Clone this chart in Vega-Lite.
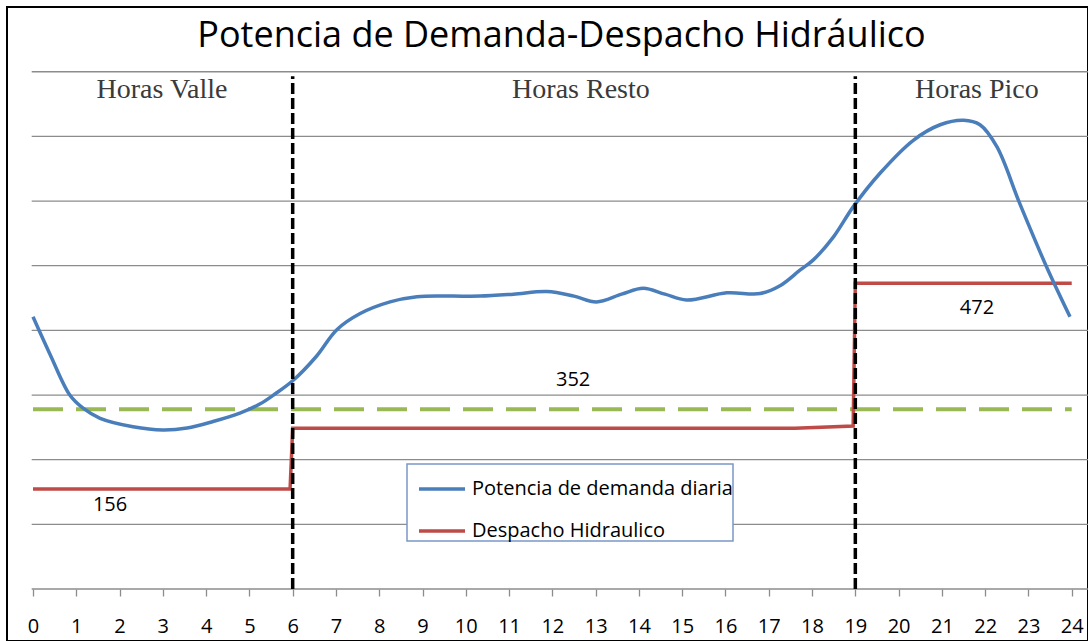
{
  "$schema": "https://vega.github.io/schema/vega-lite/v6.json",
  "width": 1081,
  "height": 634,
  "autosize": {"type": "none"},
  "padding": {"left": 7, "top": 7, "right": 0, "bottom": 0},
  "background": "white",
  "config": {
    "view": {"stroke": "#000000", "strokeWidth": 2},
    "font": "Open Sans",
    "legend": {"strokeWidth": 1.5}
  },
  "title": {
    "text": "Potencia de Demanda-Despacho Hidráulico",
    "font": "Open Sans",
    "fontSize": 36,
    "fontWeight": "normal",
    "color": "#000000",
    "anchor": "middle",
    "baseline": "alphabetic",
    "offset": -37,
    "dx": 14,
    "dy": 39
  },
  "datasets": {
    "grid": [{"nivel": 0}, {"nivel": 1}, {"nivel": 2}, {"nivel": 3}, {"nivel": 4}, {"nivel": 5}, {"nivel": 6}, {"nivel": 7}, {"nivel": 8}],
    "demanda": [
      {"hora": 0, "valor": 4.21, "serie": "Potencia de demanda diaria"},
      {"hora": 0.4, "valor": 3.62, "serie": "Potencia de demanda diaria"},
      {"hora": 0.85, "valor": 3.0, "serie": "Potencia de demanda diaria"},
      {"hora": 1.15, "valor": 2.8, "serie": "Potencia de demanda diaria"},
      {"hora": 1.55, "valor": 2.64, "serie": "Potencia de demanda diaria"},
      {"hora": 2.31, "valor": 2.51, "serie": "Potencia de demanda diaria"},
      {"hora": 3.0, "valor": 2.46, "serie": "Potencia de demanda diaria"},
      {"hora": 3.56, "valor": 2.49, "serie": "Potencia de demanda diaria"},
      {"hora": 4.16, "valor": 2.59, "serie": "Potencia de demanda diaria"},
      {"hora": 4.78, "valor": 2.72, "serie": "Potencia de demanda diaria"},
      {"hora": 5.24, "valor": 2.86, "serie": "Potencia de demanda diaria"},
      {"hora": 5.6, "valor": 3.02, "serie": "Potencia de demanda diaria"},
      {"hora": 6.0, "valor": 3.22, "serie": "Potencia de demanda diaria"},
      {"hora": 6.55, "valor": 3.6, "serie": "Potencia de demanda diaria"},
      {"hora": 7.02, "valor": 4.01, "serie": "Potencia de demanda diaria"},
      {"hora": 7.56, "valor": 4.26, "serie": "Potencia de demanda diaria"},
      {"hora": 8.25, "valor": 4.44, "serie": "Potencia de demanda diaria"},
      {"hora": 8.87, "valor": 4.52, "serie": "Potencia de demanda diaria"},
      {"hora": 9.63, "valor": 4.53, "serie": "Potencia de demanda diaria"},
      {"hora": 10.33, "valor": 4.53, "serie": "Potencia de demanda diaria"},
      {"hora": 11.1, "valor": 4.56, "serie": "Potencia de demanda diaria"},
      {"hora": 11.87, "valor": 4.6, "serie": "Potencia de demanda diaria"},
      {"hora": 12.5, "valor": 4.53, "serie": "Potencia de demanda diaria"},
      {"hora": 13.02, "valor": 4.44, "serie": "Potencia de demanda diaria"},
      {"hora": 13.6, "valor": 4.56, "serie": "Potencia de demanda diaria"},
      {"hora": 14.1, "valor": 4.65, "serie": "Potencia de demanda diaria"},
      {"hora": 14.6, "valor": 4.56, "serie": "Potencia de demanda diaria"},
      {"hora": 15.1, "valor": 4.47, "serie": "Potencia de demanda diaria"},
      {"hora": 16.03, "valor": 4.58, "serie": "Potencia de demanda diaria"},
      {"hora": 16.8, "valor": 4.57, "serie": "Potencia de demanda diaria"},
      {"hora": 17.26, "valor": 4.69, "serie": "Potencia de demanda diaria"},
      {"hora": 17.72, "valor": 4.93, "serie": "Potencia de demanda diaria"},
      {"hora": 18.03, "valor": 5.09, "serie": "Potencia de demanda diaria"},
      {"hora": 18.5, "valor": 5.45, "serie": "Potencia de demanda diaria"},
      {"hora": 18.95, "valor": 5.91, "serie": "Potencia de demanda diaria"},
      {"hora": 19.57, "valor": 6.43, "serie": "Potencia de demanda diaria"},
      {"hora": 20.34, "valor": 6.94, "serie": "Potencia de demanda diaria"},
      {"hora": 20.96, "valor": 7.18, "serie": "Potencia de demanda diaria"},
      {"hora": 21.5, "valor": 7.25, "serie": "Potencia de demanda diaria"},
      {"hora": 21.88, "valor": 7.18, "serie": "Potencia de demanda diaria"},
      {"hora": 22.27, "valor": 6.84, "serie": "Potencia de demanda diaria"},
      {"hora": 22.8, "valor": 5.96, "serie": "Potencia de demanda diaria"},
      {"hora": 23.42, "valor": 4.98, "serie": "Potencia de demanda diaria"},
      {"hora": 23.96, "valor": 4.21, "serie": "Potencia de demanda diaria"}
    ],
    "despacho": [
      {"hora": 0, "valor": 1.547, "serie": "Despacho Hidraulico"},
      {"hora": 5.94, "valor": 1.547, "serie": "Despacho Hidraulico"},
      {"hora": 6.0, "valor": 2.485, "serie": "Despacho Hidraulico"},
      {"hora": 17.6, "valor": 2.485, "serie": "Despacho Hidraulico"},
      {"hora": 18.95, "valor": 2.52, "serie": "Despacho Hidraulico"},
      {"hora": 19.0, "valor": 4.728, "serie": "Despacho Hidraulico"},
      {"hora": 24.0, "valor": 4.728, "serie": "Despacho Hidraulico"}
    ],
    "umbral": [{"hora": 0, "valor": 2.779}, {"hora": 24, "valor": 2.779}],
    "franjas": [{"hora": 6, "desde": 0, "hasta": 7.93}, {"hora": 19, "desde": 0, "hasta": 7.93}],
    "zonas": [
      {"nombre": "Horas Valle", "hora": 2.98, "nivel": 7.72},
      {"nombre": "Horas Resto", "hora": 12.66, "nivel": 7.72},
      {"nombre": "Horas Pico", "hora": 21.81, "nivel": 7.72}
    ],
    "etiquetas": [
      {"texto": "156", "hora": 1.78, "nivel": 1.3},
      {"texto": "352", "hora": 12.48, "nivel": 3.23},
      {"texto": "472", "hora": 21.81, "nivel": 4.35}
    ]
  },
  "layer": [
    {
      "data": {"name": "grid"},
      "mark": {"type": "rule", "color": "#8c8c8c", "strokeWidth": 1.3},
      "encoding": {
        "y": {"field": "nivel", "type": "quantitative", "scale": {"domain": [-0.804, 9.001], "nice": false, "zero": false}, "axis": null},
        "x": {"datum": -0.03, "type": "quantitative"},
        "x2": {"datum": 24.5}
      }
    },
    {
      "data": {"name": "umbral"},
      "mark": {"type": "line", "color": "#98B954", "strokeWidth": 4, "strokeDash": [30, 13]},
      "encoding": {
        "x": {"field": "hora", "type": "quantitative"},
        "y": {"field": "valor", "type": "quantitative", "axis": null}
      }
    },
    {
      "data": {"name": "despacho"},
      "mark": {"type": "line", "strokeWidth": 3.5},
      "encoding": {
        "x": {"field": "hora", "type": "quantitative"},
        "y": {"field": "valor", "type": "quantitative", "axis": null},
        "color": {"field": "serie", "type": "nominal"}
      }
    },
    {
      "data": {"name": "demanda"},
      "mark": {"type": "line", "strokeWidth": 3.5, "interpolate": "catmull-rom"},
      "encoding": {
        "x": {
          "field": "hora",
          "type": "quantitative",
          "scale": {"domain": [-0.6007, 24.376], "nice": false, "zero": false},
          "axis": {
            "title": null,
            "values": [0, 1, 2, 3, 4, 5, 6, 7, 8, 9, 10, 11, 12, 13, 14, 15, 16, 17, 18, 19, 20, 21, 22, 23, 24],
            "offset": -52,
            "domain": false,
            "grid": false,
            "ticks": true,
            "tickColor": "#8c8c8c",
            "tickSize": 7,
            "tickWidth": 1.3,
            "labelFont": "Open Sans",
            "labelFontSize": 20,
            "labelColor": "#000000",
            "labelPadding": 20,
            "labelFlush": false,
            "labelOverlap": false
          }
        },
        "y": {"field": "valor", "type": "quantitative", "axis": null},
        "color": {
          "field": "serie",
          "type": "nominal",
          "scale": {"domain": ["Potencia de demanda diaria", "Despacho Hidraulico"], "range": ["#4A7EBB", "#BE4B48"]},
          "legend": {
            "title": null,
            "orient": "none",
            "legendX": 400,
            "legendY": 457,
            "padding": 0,
            "symbolType": "stroke",
            "symbolSize": 2116,
            "symbolStrokeWidth": 3.5,
            "symbolOffset": 10,
            "labelOffset": 5,
            "labelLimit": 400,
            "rowPadding": 7,
            "labelFont": "Open Sans",
            "labelFontSize": 20,
            "labelColor": "#000000",
            "strokeColor": "#7996c8",
            "fillColor": "#ffffff"
          }
        }
      }
    },
    {
      "data": {"name": "franjas"},
      "mark": {"type": "rule", "color": "#000000", "strokeWidth": 3.5, "strokeDash": [11, 4]},
      "encoding": {
        "x": {"field": "hora", "type": "quantitative"},
        "y": {"field": "desde", "type": "quantitative", "axis": null},
        "y2": {"field": "hasta"}
      }
    },
    {
      "data": {"name": "zonas"},
      "mark": {"type": "text", "font": "Liberation Serif", "fontSize": 28, "color": "#3a3a3a", "align": "center", "baseline": "middle"},
      "encoding": {
        "x": {"field": "hora", "type": "quantitative"},
        "y": {"field": "nivel", "type": "quantitative", "axis": null},
        "text": {"field": "nombre"}
      }
    },
    {
      "data": {"name": "etiquetas"},
      "mark": {"type": "text", "font": "Open Sans", "fontSize": 20, "color": "#000000", "align": "center", "baseline": "middle"},
      "encoding": {
        "x": {"field": "hora", "type": "quantitative"},
        "y": {"field": "nivel", "type": "quantitative", "axis": null},
        "text": {"field": "texto"}
      }
    }
  ]
}
